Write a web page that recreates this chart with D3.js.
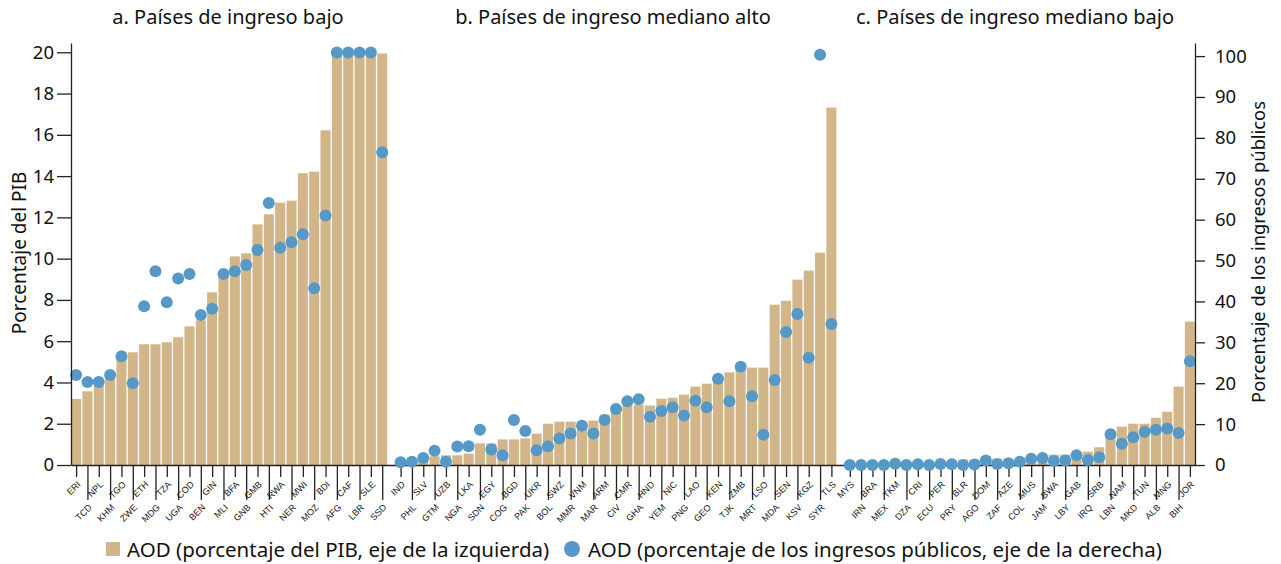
<!DOCTYPE html>
<html>
<head>
<meta charset="utf-8">
<script src="https://cdn.jsdelivr.net/npm/d3@7"></script>
<style>
  body { margin: 0; background: #fff; }
  text { font-family: "Noto Sans", "DejaVu Sans", sans-serif; fill: #111; }
</style>
</head>
<body>
<div id="chart"></div>
<script>
// group a: países de ingreso bajo
const codesA = ['ERI','TCD','NPL','KHM','TGO','ZWE','ETH','MDG','TZA','UGA','COD','BEN','GIN','MLI','BFA','GNB','GMB','HTI','RWA','NER','MWI','MOZ','BDI','AFG','CAF','LBR','SLE','SSD'];
const gdpA = [3.2,3.57,3.86,4.26,5.25,5.46,5.85,5.85,5.95,6.19,6.72,7.01,8.37,9.14,10.11,10.26,11.66,12.15,12.71,12.81,14.14,14.22,16.22,20,20,20,20,19.94];
const revA = [22.0,20.3,20.3,22.0,26.6,20.0,38.8,47.4,39.8,45.6,46.7,36.7,38.2,46.7,47.4,48.9,52.6,64.1,53.1,54.5,56.4,43.2,61.0,100.9,100.9,100.9,100.9,76.5];

// group b: países de ingreso mediano alto
const codesB = ['IND','PHL','SLV','GTM','UZB','NGA','LKA','SDN','EGY','COG','BGD','PAK','UKR','BOL','SWZ','MMR','VNM','MAR','ARM','CIV','CMR','GHA','HND','YEM','NIC','PNG','LAO','GEO','KEN','TJK','ZMB','MRT','LSO','MDA','SEN','KSV','KGZ','SYR','TLS'];
const gdpB = [0.05,0.1,0.2,0.42,0.47,0.47,0.55,1.05,1.05,1.24,1.24,1.29,1.52,2.0,2.1,2.1,2.1,2.15,2.44,2.68,2.89,2.92,2.88,3.21,3.26,3.41,3.8,3.94,4.3,4.49,4.72,4.72,4.72,7.77,7.96,8.98,9.42,10.29,17.32];
const revB = [0.65,0.8,1.7,3.5,0.8,4.5,4.6,8.6,3.8,2.4,11.0,8.3,3.6,4.6,6.5,7.7,9.6,7.7,11.0,13.7,15.6,16.1,11.8,13.2,14.1,12.1,15.7,14.1,21.1,15.6,24.0,16.8,7.4,20.8,32.5,36.9,26.2,100.3,34.5];

// group c: países de ingreso mediano bajo
const codesC = ['MYS','IRN','BRA','MEX','TKM','DZA','CRI','ECU','PER','PRY','BLR','AGO','DOM','ZAF','AZE','COL','MUS','JAM','BWA','LBY','GAB','IRQ','SRB','LBN','NAM','MKD','TUN','ALB','MNG','BIH','JOR'];
const gdpC = [0,0,0,0,0.05,0,0.05,0.05,0.1,0.15,0.26,0.26,0.3,0.3,0.3,0.35,0.42,0.47,0.5,0.5,0.58,0.65,0.86,1.62,1.86,2.0,2.0,2.29,2.58,3.8,6.95];
const revC = [0,0,0,0,0.3,0,0.2,0,0.25,0.2,0,0.1,1.1,0.25,0.4,0.8,1.5,1.7,1.0,1.1,2.4,1.2,1.9,7.5,5.2,6.8,8.1,8.6,8.9,7.8,25.4];

const groupTitles = ['a. Países de ingreso bajo', 'b. Países de ingreso mediano alto', 'c. Países de ingreso mediano bajo'];
const leftTicks = d3.range(0, 21, 2);
const rightTicks = d3.range(0, 101, 10);
const legendLabels = ['AOD (porcentaje del PIB, eje de la izquierda)', 'AOD (porcentaje de los ingresos públicos, eje de la derecha)'];

const width = 1281;
const height = 564;
const margin = { top: 43, bottom: 99, left: 71, right: 86 };
const gap = 0.62; // extra space between the groups, in bar steps
const barColor = '#d2b689';
const dotColor = '#5799c6';

// rows with a slot position
const groups = [[codesA, gdpA, revA], [codesB, gdpB, revB], [codesC, gdpC, revC]];
const rows = [];
groups.forEach(([codes, gdp, rev], g) => {
  codes.forEach((c, k) => {
    rows.push({ code: c, gdp: gdp[k], rev: rev[k], g: g, k: k, slot: rows.length + g * gap });
  });
});

const svg = d3.select('#chart')
  .append('svg')
  .attr('width', width)
  .attr('height', height);

const x = d3.scaleLinear()
  .domain([-0.45, rows[rows.length - 1].slot + 0.45])
  .range([margin.left, width - margin.right]);

const step = x(1) - x(0);
const bw = step * 0.885;
const base = height - margin.bottom;

const yL = d3.scaleLinear()
  .domain([0, 20.45])
  .range([base, margin.top]);

const yR = d3.scaleLinear()
  .domain([0, 103.2])
  .range([base, margin.top]);

// bars
svg.append('g')
  .attr('fill', barColor)
  .selectAll('rect')
  .data(rows)
  .join('rect')
    .attr('x', d => x(d.slot) - bw / 2)
    .attr('y', d => yL(d.gdp))
    .attr('width', bw)
    .attr('height', d => yL(0) - yL(d.gdp));

// bottom axis, ticks alternate short / long
const xAxis = svg.append('g')
  .attr('transform', `translate(0,${base})`)
  .call(d3.axisBottom(x)
    .tickValues(rows.map(d => d.slot))
    .tickFormat('')
    .tickSizeOuter(0));

xAxis.selectAll('.tick line')
  .attr('y2', (v, i) => rows[i].k % 2 ? 35 : 12);

// country codes, rotated
svg.append('g')
  .attr('font-size', '9px')
  .selectAll('g')
  .data(rows)
  .join('g')
    .attr('transform', d => `translate(${x(d.slot) + 5},${base + (d.k % 2 ? 43 : 20)}) rotate(-45)`)
  .append('text')
    .attr('text-anchor', 'end')
    .style('font-family', '"Liberation Sans Narrow", "Liberation Sans", sans-serif')
    .text(d => d.code);

// dots
svg.append('g')
  .attr('fill', dotColor)
  .selectAll('circle')
  .data(rows)
  .join('circle')
    .attr('cx', d => x(d.slot))
    .attr('cy', d => yR(d.rev))
    .attr('r', 6);

// left axis
const leftAxis = svg.append('g')
  .attr('transform', `translate(${margin.left},0)`)
  .call(d3.axisLeft(yL).tickValues(leftTicks).tickSize(14).tickPadding(3).tickSizeOuter(0));
leftAxis.selectAll('text').attr('font-size', '18.5px');

// right axis
const rightAxis = svg.append('g')
  .attr('transform', `translate(${width - margin.right},0)`)
  .call(d3.axisRight(yR).tickValues(rightTicks).tickSize(10).tickPadding(10).tickSizeOuter(0));
rightAxis.selectAll('text').attr('font-size', '18.5px');

svg.selectAll('.domain, .tick line')
  .attr('stroke', '#222')
  .attr('stroke-width', 1.3);
svg.selectAll('.tick text').attr('fill', '#111');

// axis titles
svg.append('text')
  .attr('transform', 'translate(26,253) rotate(-90)')
  .attr('text-anchor', 'middle')
  .attr('font-size', '19px')
  .text('Porcentaje del PIB');

svg.append('text')
  .attr('transform', 'translate(1265,252) rotate(-90)')
  .attr('text-anchor', 'middle')
  .attr('font-size', '18.3px')
  .text('Porcentaje de los ingresos públicos');

// group titles
[228, 613, 1015].forEach((cx, i) => {
  svg.append('text')
    .attr('x', cx)
    .attr('y', 24)
    .attr('text-anchor', 'middle')
    .attr('font-size', '20px')
    .text(groupTitles[i]);
});

// legend
const legend = svg.append('g').attr('font-size', '20.5px');
legend.append('rect')
  .attr('x', 106).attr('y', 542).attr('width', 14).attr('height', 14)
  .attr('fill', barColor);
legend.append('text').attr('x', 127).attr('y', 557).text(legendLabels[0]);
legend.append('circle')
  .attr('cx', 572).attr('cy', 549).attr('r', 8)
  .attr('fill', dotColor);
legend.append('text').attr('x', 588).attr('y', 557).text(legendLabels[1]);
</script>
</body>
</html>
